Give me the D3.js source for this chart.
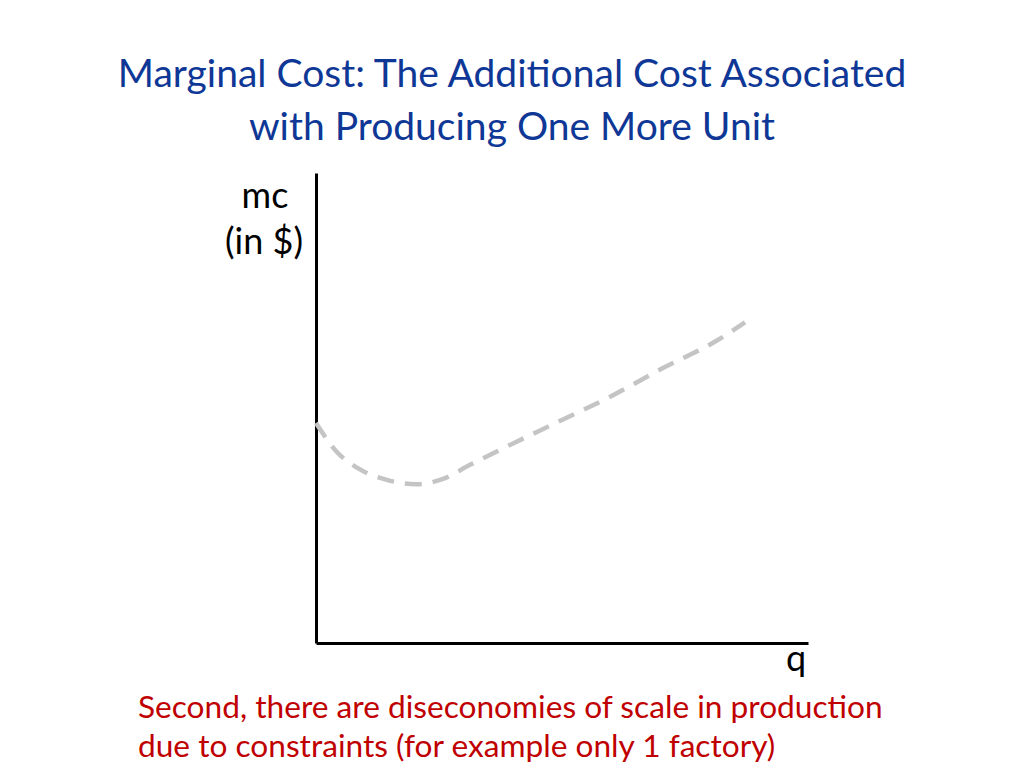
<!DOCTYPE html>
<html>
<head>
<meta charset="utf-8">
<script src="https://cdn.jsdelivr.net/npm/d3@7"></script>
<style>
  body { margin: 0; background: #fff; }
  text { font-family: "Lato", "Open Sans", sans-serif; }
</style>
</head>
<body>
<svg id="chart" width="1024" height="768"></svg>
<script>
"use strict";

// chart content
const titleLines = ["Marginal Cost: The Additional Cost Associated", "with Producing One More Unit"];
const yLabelLines = ["mc", "(in $)"];
const xLabel = "q";
const noteLines = ["Second, there are diseconomies of scale in production", "due to constraints (for example only 1 factory)"];

// marginal cost curve (q, mc in 0..100 units)
const qValues  = [0,    4.2,  8.5,  14.4, 20.5, 25.8, 31.3, 37.4, 48.9, 59.8, 70.5, 81.4, 87.2];
const mcValues = [46.8, 40.7, 37.2, 34.7, 33.8, 34.9, 37.9, 41.1, 46.9, 52.4, 58.5, 64.3, 68.2];

const svg = d3.select("#chart");

const x = d3.scaleLinear().domain([0, 100]).range([316, 808]);
const y = d3.scaleLinear().domain([0, 100]).range([643, 173]);

// scale font so a line fills the width it has in the reference
function fitSize(sel, target) {
	const len = sel.node().getComputedTextLength();
	const size = parseFloat(sel.attr("font-size"));
	return size * target / len;
}

// title
let title = svg.append("g").attr("fill", "#0e3796");
let t1 = title.append("text")
	.attr("x", 512).attr("y", 87)
	.attr("text-anchor", "middle")
	.attr("font-size", 36)
	.text(titleLines[0]);
let titleSize = fitSize(t1, 789);
t1.attr("font-size", titleSize);
title.append("text")
	.attr("x", 512).attr("y", 140)
	.attr("text-anchor", "middle")
	.attr("font-size", titleSize)
	.text(titleLines[1]);

// axes, no ticks
svg.append("g")
	.attr("transform", `translate(0, ${y(0)})`)
	.call(d3.axisBottom(x).ticks(0).tickSizeOuter(0))
	.call(g => g.select(".domain").attr("stroke", "#000").attr("stroke-width", 3));
svg.append("g")
	.attr("transform", `translate(${x(0)}, 0)`)
	.call(d3.axisLeft(y).ticks(0).tickSizeOuter(0))
	.call(g => g.select(".domain").attr("stroke", "#000").attr("stroke-width", 3));

// axis labels
svg.append("text")
	.attr("x", 265).attr("y", 208)
	.attr("text-anchor", "middle")
	.attr("font-size", 36)
	.attr("fill", "#000")
	.text(yLabelLines[0]);
svg.append("text")
	.attr("x", 264).attr("y", 254)
	.attr("text-anchor", "middle")
	.attr("font-size", 36)
	.attr("fill", "#000")
	.text(yLabelLines[1]);
svg.append("text")
	.attr("x", 786).attr("y", 671)
	.attr("font-size", 36)
	.attr("fill", "#000")
	.text(xLabel);

// the mc curve
const line = d3.line()
	.x(d => x(d[0]))
	.y(d => y(d[1]))
	.curve(d3.curveMonotoneX);
svg.append("path")
	.datum(qValues.map((q, i) => [q, mcValues[i]]))
	.attr("d", line)
	.attr("fill", "none")
	.attr("stroke", "#c4c4c4")
	.attr("stroke-width", 4.5)
	.attr("stroke-dasharray", "17,11");

// note at the bottom
let note = svg.append("g").attr("fill", "#c00000");
let n1 = note.append("text")
	.attr("x", 138).attr("y", 718)
	.attr("font-size", 28)
	.text(noteLines[0]);
let noteSize = fitSize(n1, 745);
n1.attr("font-size", noteSize);
note.append("text")
	.attr("x", 138).attr("y", 757)
	.attr("font-size", noteSize)
	.text(noteLines[1]);
</script>
</body>
</html>
